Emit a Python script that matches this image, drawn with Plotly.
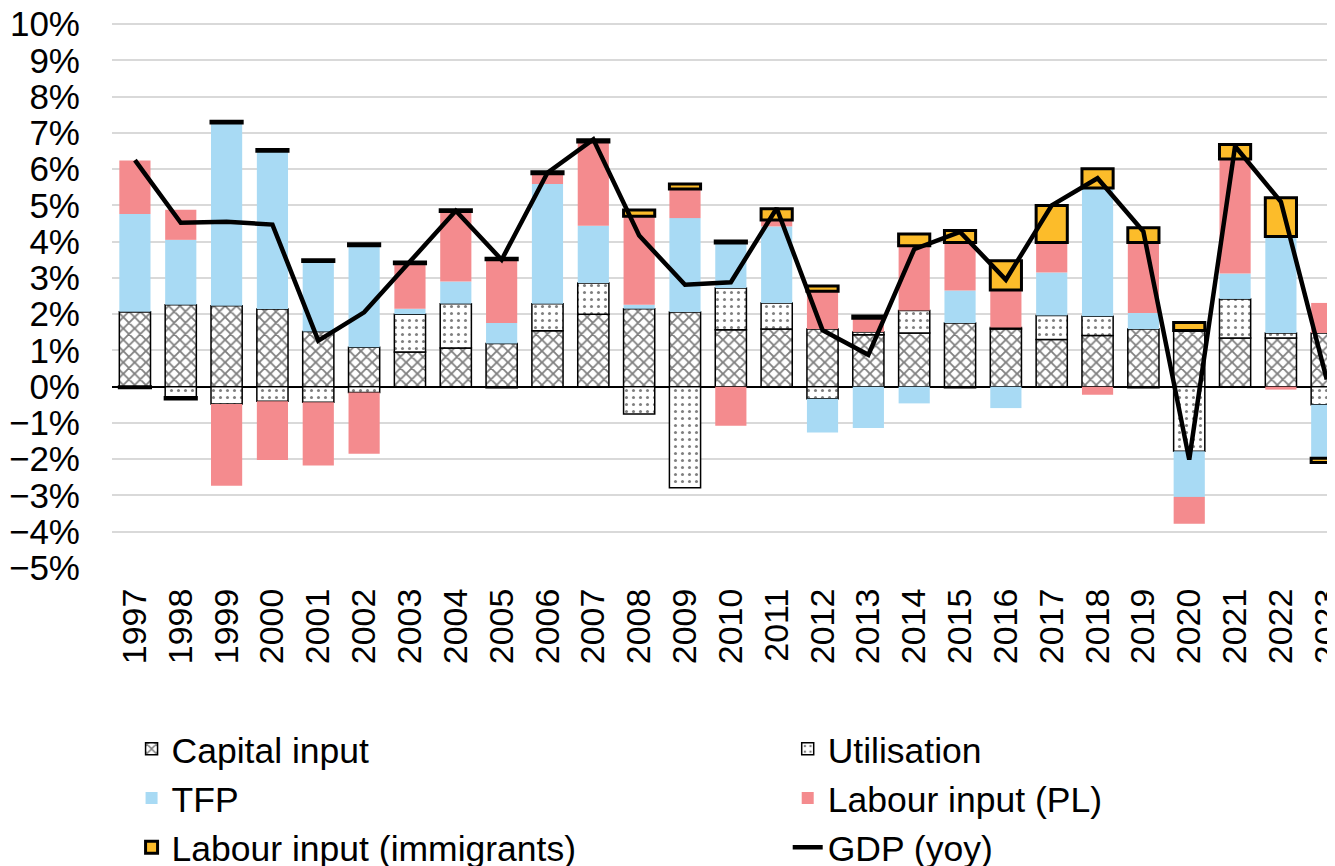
import plotly.graph_objects as go

years = [str(y) for y in range(1997, 2024)]

capital = [2.07, 2.26, 2.23, 2.14, 1.52, 1.09, 0.96, 1.07, 1.19, 1.54, 2.00, 2.15, 2.06, 1.57,
           1.59, 1.59, 1.43, 1.48, 1.76, 1.59, 1.30, 1.41, 1.59, 1.55, 1.34, 1.34, 1.48]
utilisation = [0.0, -0.30, -0.48, -0.40, -0.43, -0.16, 1.04, 1.22, -0.03, 0.75, 0.86, -0.75, -2.79, 1.15,
               0.72, -0.33, 0.08, 0.62, -0.03, 0.04, 0.66, 0.53, -0.03, -1.78, 1.08, 0.14, -0.50]
tfp = [2.69, 1.79, 5.04, 4.35, 1.93, 2.80, 0.15, 0.61, 0.57, 3.30, 1.58, 0.11, 2.59, 1.24,
       2.11, -0.93, -1.14, -0.46, 0.89, -0.59, 1.19, 3.54, 0.44, -1.26, 0.70, 2.66, -1.47]
labour_pl = [1.48, 0.83, -2.25, -1.62, -1.74, -1.69, 1.24, 1.93, 1.74, 0.28, 2.31, 2.44, 0.80, -1.08,
             0.18, 1.04, 0.38, 1.79, 1.33, 1.04, 0.83, -0.22, 1.95, -0.74, 3.16, -0.08, 0.83]
labour_imm = [-0.03, -0.04, 0.05, 0.05, 0.05, 0.05, 0.05, 0.05, 0.04, 0.06, 0.06, 0.17, 0.14, 0.06,
              0.31, 0.15, 0.06, 0.32, 0.33, 0.80, 1.02, 0.53, 0.40, 0.22, 0.40, 1.07, -0.12]
gdp = [6.25, 4.52, 4.55, 4.47, 1.27, 2.05, 3.45, 4.85, 3.50, 5.90, 6.82, 4.17, 2.81, 2.88,
       4.92, 1.56, 0.88, 3.79, 4.27, 2.95, 5.00, 5.75, 4.28, -2.01, 6.63, 5.10, 0.20]

FONT = "Liberation Sans, Arial, sans-serif"

fig = go.Figure()
fig.add_trace(go.Bar(
    x=years, y=capital, name="Capital input", legend="legend",
    marker=dict(color="white", line=dict(color="black", width=1.5),
                pattern=dict(shape="x", fgcolor="black", bgcolor="white", size=8, solidity=0.4)),
))
fig.add_trace(go.Bar(
    x=years, y=utilisation, name="Utilisation", legend="legend2",
    marker=dict(color="white", line=dict(color="black", width=1.5),
                pattern=dict(shape=".", fgcolor="black", bgcolor="white", size=7, solidity=0.15)),
))
fig.add_trace(go.Bar(
    x=years, y=tfp, name="TFP", legend="legend",
    marker=dict(color="#A8DAF4", line=dict(width=0)),
))
fig.add_trace(go.Bar(
    x=years, y=labour_pl, name="Labour input (PL)", legend="legend2",
    marker=dict(color="#F48B8E", line=dict(width=0)),
))
fig.add_trace(go.Bar(
    x=years, y=labour_imm, name="Labour input (immigrants)", legend="legend",
    marker=dict(color="#FCBC2A", line=dict(color="black", width=3)),
))
fig.add_trace(go.Scatter(
    x=years, y=gdp, name="GDP (yoy)", mode="lines", legend="legend2",
    line=dict(color="black", width=4.5),
))

leg_common = dict(
    orientation="v", xanchor="left", yanchor="top",
    font=dict(family=FONT, size=35.5, color="black"),
    bgcolor="rgba(0,0,0,0)", tracegroupgap=0, traceorder="normal",
)

fig.update_layout(
    width=1327, height=858,
    barmode="relative", bargap=0.32,
    plot_bgcolor="white", paper_bgcolor="white",
    margin=dict(l=104, r=0, t=15, b=298, autoexpand=False),
    font=dict(family=FONT, size=34, color="black"),
    showlegend=True,
    legend=dict(x=0.016, y=-0.2776, **leg_common),
    legend2=dict(x=0.5525, y=-0.2776, **leg_common),
)
fig.update_xaxes(
    type="category", range=[-0.5, 26.18], tickangle=-90,
    showgrid=False, showline=False, ticks="outside", ticklen=6, tickcolor="rgba(0,0,0,0)",
    tickfont=dict(family=FONT, size=34, color="black"), ticklabeloverflow="allow",
)
fig.update_yaxes(
    range=[-5, 10.03], dtick=1, tick0=0, ticksuffix="%",
    showgrid=True, gridcolor="#D9D9D9", gridwidth=2,
    zeroline=True, zerolinecolor="black", zerolinewidth=1.5,
    showline=False, ticks="outside", ticklen=24, tickcolor="rgba(0,0,0,0)",
    tickfont=dict(family=FONT, size=35, color="black"), ticklabeloverflow="allow",
)

fig.write_html("out.html")
